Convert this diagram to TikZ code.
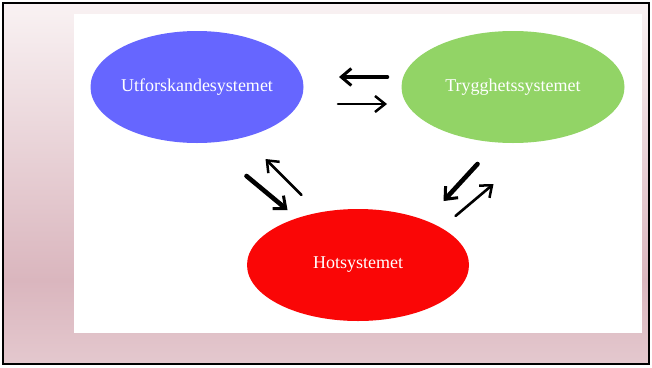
\documentclass[tikz,border=0pt]{standalone}
\usepackage{fontspec}
\setmainfont{Liberation Serif}
\usepackage{xcolor}
\usetikzlibrary{shapes.geometric,arrows.meta,calc}
\definecolor{utfblue}{RGB}{102,102,255}
\definecolor{trygreen}{RGB}{146,212,102}
\definecolor{hotred}{RGB}{250,6,6}
\definecolor{paleback}{RGB}{249,242,243}
\definecolor{roseback}{RGB}{218,182,190}
\definecolor{roselow}{RGB}{228,200,206}

\begin{document}
\begin{tikzpicture}[x=1pt,y=-1pt,
    system/.style={ellipse, inner sep=0pt, minimum height=112pt},
    systext/.style={text=white, font=\fontsize{18}{22}\selectfont},
    heavy/.style={line width=4.6pt, line cap=round, -{Straight Barb[length=10pt,width=17pt,line width=3pt]}},
    light/.style={line width=2.6pt, line cap=round, -{Straight Barb[length=10pt,width=16pt,line width=2.5pt]}}]
    \useasboundingbox (0,0) rectangle (652,367);

    \shade[top color=paleback, bottom color=roseback] (3,3) rectangle (649,280);
    \shade[top color=roseback, bottom color=roselow] (3,280) rectangle (649,364);
    \draw[line width=2pt] (3,3) rectangle (649,364);
    \fill[white] (74,14) rectangle (642,333);

    \node[system, fill=utfblue, minimum width=213pt,
        label={[systext]center:Utforskandesystemet}] (utf) at (197,87) {};
    \node[system, fill=trygreen, minimum width=223pt,
        label={[systext]center:Trygghetssystemet}] (trygg) at (513,87) {};
    \node[system, fill=hotred, minimum width=222pt,
        label={[systext]center:Hotsystemet}] (hot) at (358,265) {};

    \draw[heavy] ($(utf)!0.5!(trygg) + (32,-10)$) -- ($(utf)!0.5!(trygg) + (-16,-10)$);
    \draw[light] ($(utf)!0.5!(trygg) + (-17,17)$) -- ($(utf)!0.5!(trygg) + (32,17)$);

    \draw[heavy] ($(utf)!0.5!(hot) + (-31,0)$) -- ($(utf)!0.5!(hot) + (10,34)$);
    \draw[light] ($(utf)!0.5!(hot) + (24,19)$) -- ($(utf)!0.5!(hot) + (-12,-17)$);

    \draw[heavy] ($(trygg)!0.5!(hot) + (42,-12)$) -- ($(trygg)!0.5!(hot) + (8,25)$);
    \draw[light] ($(trygg)!0.5!(hot) + (20,40)$) -- ($(trygg)!0.5!(hot) + (58,8)$);
\end{tikzpicture}
\end{document}
